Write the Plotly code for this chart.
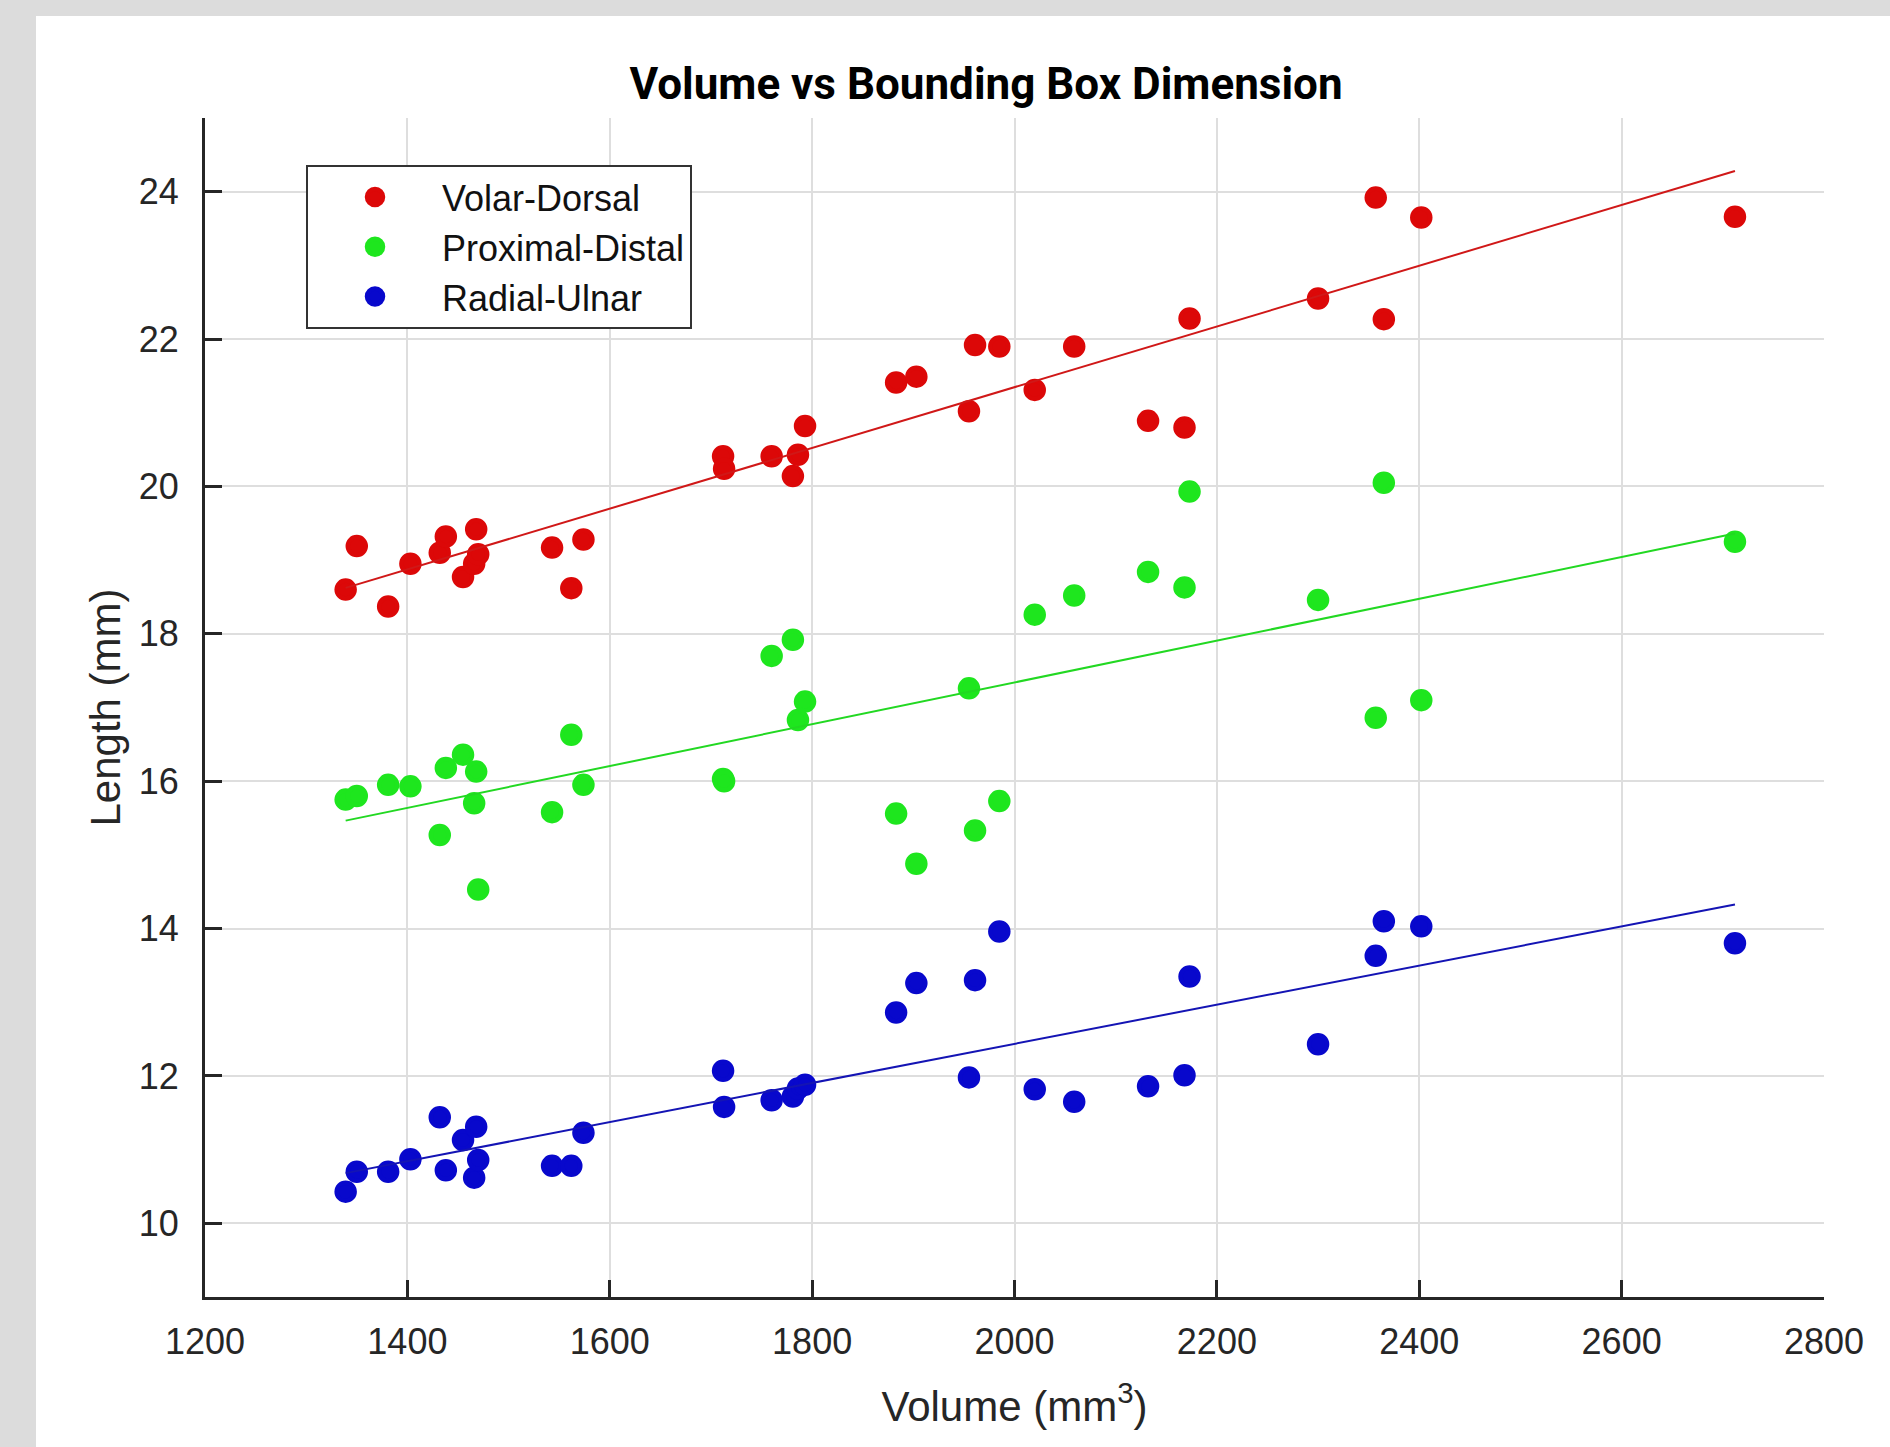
import numpy as np
import plotly.graph_objects as go

# ---- data ----
volume = [1339, 1350, 1381, 1403, 1432, 1438, 1455, 1466, 1468, 1470,
          1543, 1562, 1574, 1712, 1713, 1760, 1781, 1786, 1793, 1883,
          1903, 1955, 1961, 1985, 2020, 2059, 2132, 2168, 2173, 2300,
          2357, 2365, 2402, 2712]

volar_dorsal = [18.60, 19.19, 18.37, 18.95, 19.10, 19.32, 18.77, 18.95, 19.42, 19.08,
                19.17, 18.62, 19.28, 20.41, 20.24, 20.41, 20.14, 20.43, 20.82, 21.41,
                21.49, 21.02, 21.92, 21.90, 21.31, 21.90, 20.89, 20.80, 22.28, 22.55,
                23.92, 22.27, 23.65, 23.66]

proximal_distal = [15.75, 15.80, 15.95, 15.93, 15.27, 16.18, 16.36, 15.70, 16.13, 14.53,
                   15.58, 16.63, 15.95, 16.03, 16.00, 17.70, 17.92, 16.83, 17.08, 15.56,
                   14.88, 17.26, 15.33, 15.73, 18.26, 18.52, 18.84, 18.63, 19.93, 18.46,
                   16.86, 20.05, 17.10, 19.25]

radial_ulnar = [10.43, 10.70, 10.70, 10.87, 11.44, 10.72, 11.13, 10.62, 11.31, 10.86,
                10.78, 10.78, 11.23, 12.07, 11.58, 11.67, 11.72, 11.83, 11.88, 12.86,
                13.26, 11.98, 13.30, 13.96, 11.82, 11.65, 11.86, 12.01, 13.35, 12.43,
                13.63, 14.10, 14.03, 13.80]

series_names = ["Volar-Dorsal", "Proximal-Distal", "Radial-Ulnar"]
x_ticks = [1200, 1400, 1600, 1800, 2000, 2200, 2400, 2600, 2800]
y_ticks = [10, 12, 14, 16, 18, 20, 22, 24]

# ---- styling ----
colors = ["#dc0808", "#1ee61e", "#0808cc"]
line_colors = ["#d01818", "#22d822", "#1414b4"]
W, H = 1890, 1447
ML, MR, MT, MB = 205, 66, 118, 150
PW, PH = W - ML - MR, H - MT - MB
TXT = "#262626"
FONT = "Liberation Sans, Arial, sans-serif"

fig = go.Figure()
all_series = [volar_dorsal, proximal_distal, radial_ulnar]
for name, vals, col in zip(series_names, all_series, colors):
    fig.add_trace(go.Scatter(
        x=volume, y=vals, mode="markers", name=name,
        marker=dict(size=18, color=col, line=dict(color=col, width=4.5)),
    ))
for vals, col in zip(all_series, line_colors):
    slope, intercept = np.polyfit(volume, vals, 1)
    xs = [min(volume), max(volume)]
    fig.add_trace(go.Scatter(
        x=xs, y=[slope * v + intercept for v in xs], mode="lines",
        line=dict(color=col, width=2), showlegend=False, hoverinfo="skip",
    ))

# white figure panel over grey window background
fig.add_shape(type="rect", xref="paper", yref="paper", layer="below",
              x0=(36 - ML) / PW, x1=(W + 10 - ML) / PW,
              y0=(H - MB - H - 10) / PH, y1=(H - MB - 16) / PH,
              fillcolor="white", line=dict(width=0))

axis_common = dict(
    showline=True, linecolor=TXT, linewidth=3, mirror=False,
    ticks="inside", ticklen=17, tickwidth=3, tickcolor=TXT,
    showgrid=True, gridcolor="#dedede", gridwidth=2, zeroline=False,
    tickfont=dict(family=FONT, size=36, color=TXT),
)

fig.update_layout(
    width=W, height=H,
    margin=dict(l=ML, r=MR, t=MT, b=MB),
    paper_bgcolor="#dcdcdc", plot_bgcolor="white",
    title=dict(text="<b>Volume vs Bounding Box Dimension</b>",
               x=(986 - ML) / PW, xref="paper", xanchor="center",
               y=1 - 84 / H, yref="container", yanchor="middle",
               font=dict(family="Roboto, Liberation Sans", size=44, color="#000000")),
    xaxis=dict(range=[1200, 2800], tickvals=x_ticks, ticktext=[str(v) for v in x_ticks],
               title=dict(text="Volume (mm<sup>3</sup>)", standoff=31,
                          font=dict(family=FONT, size=42, color=TXT)),
               ticklabelstandoff=11, **axis_common),
    yaxis=dict(range=[9, 25], tickvals=y_ticks, ticktext=[str(v) for v in y_ticks],
               title=dict(text="Length (mm)", standoff=6,
                          font=dict(family=FONT, size=42, color=TXT)),
               ticklabelstandoff=16, **axis_common),
    legend=dict(x=(306 - ML) / PW, y=(H - MB - 165) / PH, xanchor="left", yanchor="top",
                bgcolor="white", bordercolor="#333333", borderwidth=2,
                itemwidth=124, font=dict(family=FONT, size=36, color="#111111")),
    showlegend=True,
)

fig.write_html(
    "out.html",
    config={"displayModeBar": False},
    post_script="document.body.style.margin='0';document.body.style.overflow='hidden';"
                "document.body.style.background='#dcdcdc';",
)
